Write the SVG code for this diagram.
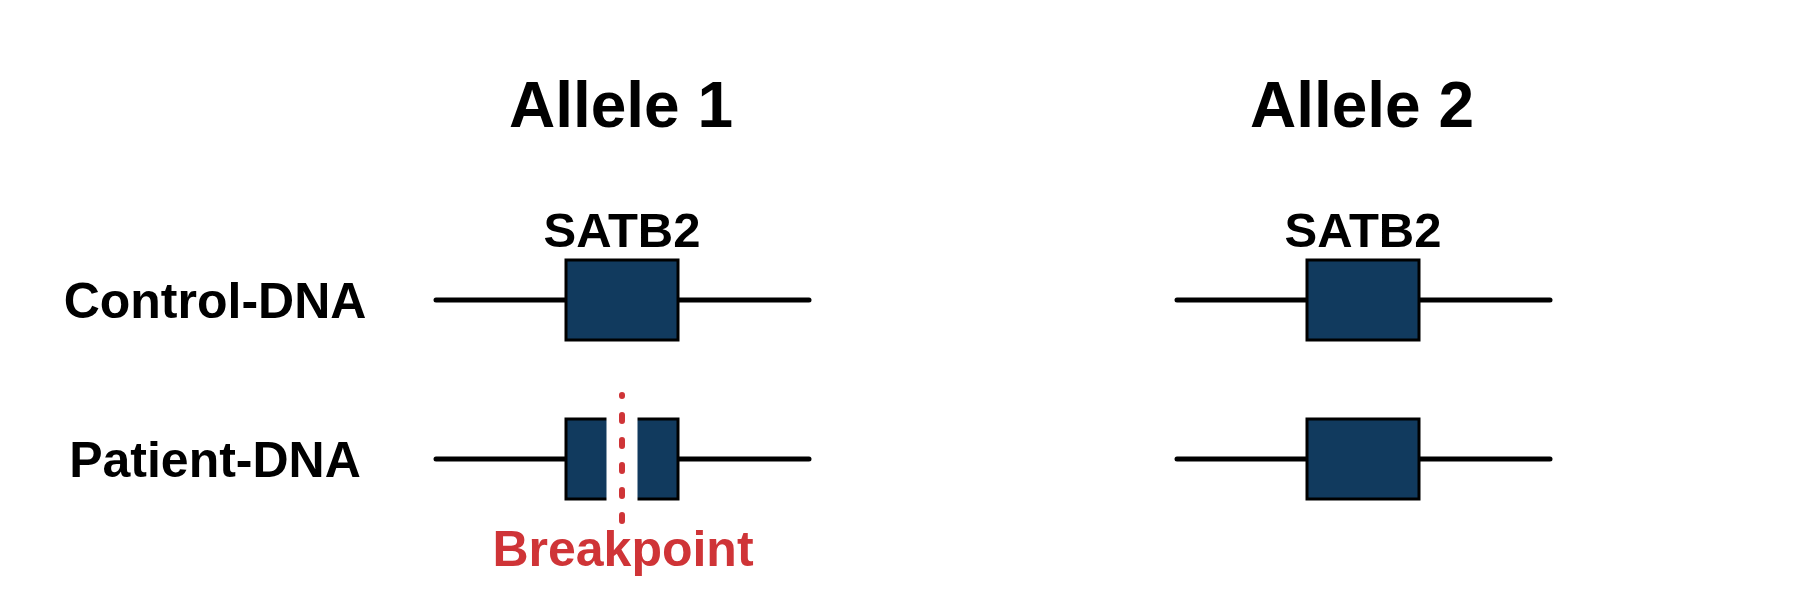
<svg xmlns="http://www.w3.org/2000/svg" width="1800" height="600" viewBox="0 0 1800 600">
<style>
text{font-family:"Liberation Sans",Arial,sans-serif;font-weight:bold;fill:#000;text-anchor:middle}
.title{font-size:64px}
.gene{font-size:49px}
.row{font-size:50px}
.bp{font-size:50px;fill:#cf3437}
.dna{stroke:#000;stroke-width:5;stroke-linecap:round;fill:none}
.box{fill:#113a5e;stroke:#000;stroke-width:3}
.cut{stroke:#cf3437;stroke-width:6;stroke-linecap:round;stroke-dasharray:6 19;stroke-dashoffset:5;fill:none}
</style>
<rect width="1800" height="600" fill="#fff"/>
<g id="titles">
<text class="title" x="621" y="127">Allele 1</text>
<text class="title" x="1362" y="127">Allele 2</text>
</g>
<g id="labels">
<text class="row" x="215" y="318">Control-DNA</text>
<text class="row" x="215" y="477">Patient-DNA</text>
</g>
<g id="connectors">
<line class="dna" x1="436" y1="300" x2="809" y2="300"/>
<line class="dna" x1="436" y1="459" x2="809" y2="459"/>
<line class="dna" x1="1177" y1="300" x2="1550" y2="300"/>
<line class="dna" x1="1177" y1="459" x2="1550" y2="459"/>
</g>
<g id="allele1-control">
<text class="gene" x="622" y="247">SATB2</text>
<rect class="box" x="566" y="260" width="112" height="80"/>
</g>
<g id="allele1-patient">
<rect class="box" x="566" y="419" width="112" height="80"/>
<rect x="606.5" y="415" width="31" height="88" fill="#fff"/>
<line class="cut" x1="622" y1="395" x2="622" y2="521"/>
<text class="bp" x="623" y="566">Breakpoint</text>
</g>
<g id="allele2-control">
<text class="gene" x="1363" y="247">SATB2</text>
<rect class="box" x="1307" y="260" width="112" height="80"/>
</g>
<g id="allele2-patient">
<rect class="box" x="1307" y="419" width="112" height="80"/>
</g>
</svg>
